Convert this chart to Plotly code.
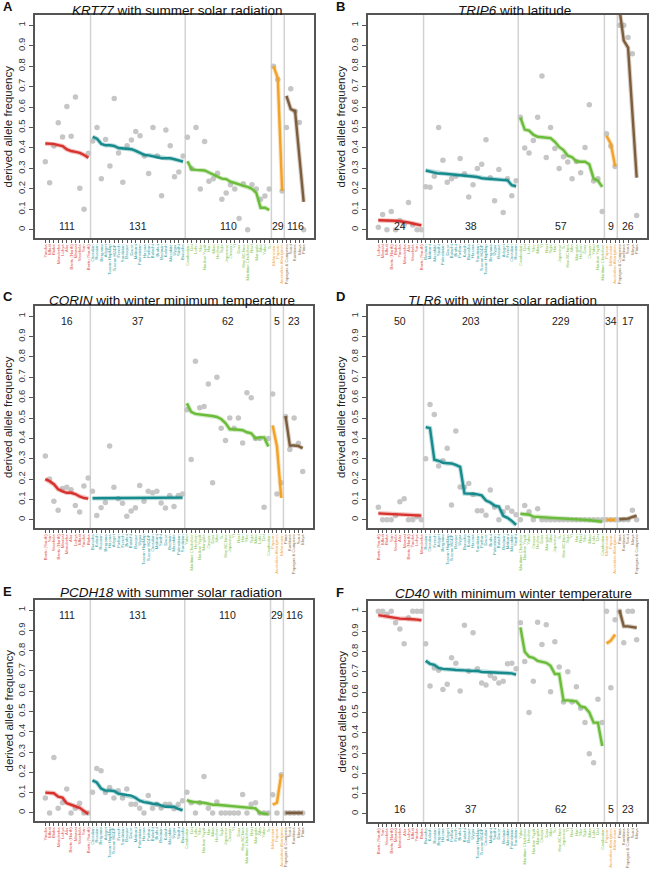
import plotly.graph_objects as go

# ---------------- data ----------------
GROUP_SIZES = [11, 22, 20, 3, 5]
GROUP_LINE_COLORS = ["#d7322d", "#168a8c", "#6abc3a", "#f3a229", "#7c5d3d"]
GROUP_LABEL_COLORS = ["#e04a46", "#2a9a9c", "#7cc24a", "#f2a43a", "#8d6e4e"]
Y_TICKS = [0, 0.1, 0.2, 0.3, 0.4, 0.5, 0.6, 0.7, 0.8, 0.9, 1]
Y_TICK_LABELS = ["0", "0.1", "0.2", "0.3", "0.4", "0.5", "0.6", "0.7", "0.8", "0.9", "1"]

ORDER_SUMMER_SOLAR = [
    "Yoruba", "Mbuti", "Biaka", "Mandenka", "Luhya", "Alur", "Bantu (North)", "Maasai", "Vasekela", "San", "Bantu (South)",
    "Orcadian", "Russian", "Bergamo", "Adygei", "Tuscan HapMap", "Tuscan HGDP", "French", "Sardinian", "Basque", "Druze", "Makrani",
    "Palestinian", "Hazara", "Pathan", "Balochi", "Brahui", "Bedouin", "Kalash", "Mozabite", "Uygur", "Sindhi", "Burusho",
    "Cambodian", "Dai", "Lahu", "She", "Naukan Yupik", "Han", "Miao", "Hezhen", "Tujia", "Japanese", "Oroqen", "Yi", "Daur",
    "Han-NChina", "Maritime Chukchee", "Naxi", "Mongola", "Xibo", "Yakut", "Tu",
    "Melanesian", "Papuan", "Australian Aborigines",
    "Papagos & Cumpeno", "Surui", "Karitiana", "Maya", "Pima"]
ORDER_LATITUDE = [
    "Luhya", "Maasai", "Mbuti", "Bantu (North)", "Biaka", "Yoruba", "Mandenka", "Alur", "Vasekela", "San", "Bantu (South)",
    "Bedouin", "Makrani", "Mozabite", "Sindhi", "Palestinian", "Druze", "Balochi", "Brahui", "Pathan", "Kalash", "Burusho",
    "Hazara", "Sardinian", "Tuscan HGDP", "Tuscan HapMap", "Bergamo", "Uygur", "Basque", "Adygei", "French", "Orcadian", "Russian",
    "Cambodian", "Dai", "Lahu", "She", "Miao", "Yi", "Naxi", "Tujia", "Han", "Japanese", "Tu", "Han-NChina", "Xibo",
    "Mongola", "Hezhen", "Daur", "Oroqen", "Yakut", "Naukan Yupik", "Maritime Chukchee",
    "Papuan", "Melanesian", "Australian Aborigines",
    "Papagos & Cumpeno", "Karitiana", "Surui", "Maya", "Pima"]
ORDER_WINTER_TEMP = [
    "Bantu (South)", "San", "Vasekela", "Bantu (North)", "Maasai", "Mandenka", "Alur", "Luhya", "Mbuti", "Yoruba", "Biaka",
    "Burusho", "Kalash", "Russian", "Bergamo", "Hazara", "Adygei", "Pathan", "French", "Brahui", "Balochi", "Basque",
    "Uygur", "Tuscan HapMap", "Tuscan HGDP", "Orcadian", "Makrani", "Sindhi", "Druze", "Bedouin", "Mozabite", "Palestinian", "Sardinian",
    "Yakut", "Maritime Chukchee", "Hezhen", "Naukan Yupik", "Mongola", "Oroqen", "Daur", "Xibo", "Tu", "Han-NChina", "Japanese",
    "Yi", "Naxi", "Han", "She", "Tujia", "Miao", "Lahu", "Dai", "Cambodian",
    "Papuan", "Australian Aborigines", "Melanesian",
    "Pima", "Karitiana", "Papagos & Cumpeno", "Surui", "Maya"]
ORDER_WINTER_SOLAR = [
    "Bantu (South)", "Mbuti", "Biaka", "San", "Vasekela", "Alur", "Maasai", "Bantu (North)", "Yoruba", "Luhya", "Mandenka",
    "Russian", "Orcadian", "French", "Adygei", "Bergamo", "Tuscan HapMap", "Tuscan HGDP", "Basque", "Uygur", "Burusho", "Kalash",
    "Hazara", "Sardinian", "Pathan", "Druze", "Brahui", "Palestinian", "Balochi", "Bedouin", "Makrani", "Mozabite", "Sindhi",
    "Maritime Chukchee", "Naukan Yupik", "Yakut", "Oroqen", "Hezhen", "Daur", "Mongola", "Xibo", "Japanese", "Tu", "Han-NChina",
    "Tujia", "Yi", "Han", "Naxi", "She", "Miao", "Lahu", "Dai", "Cambodian",
    "Melanesian", "Papuan", "Australian Aborigines",
    "Pima", "Karitiana", "Surui", "Maya", "Papagos & Cumpeno"]

# Panel A: KRT77 with summer solar radiation
A_FREQ = [0.333, 0.23, 0.41, 0.523, 0.454, 0.603, 0.457, 0.649, 0.203, 0.10, 0.374,
          0.434, 0.50, 0.25, 0.442, 0.312, 0.642, 0.376, 0.233, 0.411, 0.439, 0.48, 0.46, 0.361, 0.275, 0.50, 0.361,
          0.166, 0.488, 0.411, 0.259, 0.283, 0.361,
          0.452, 0.30, 0.50, 0.20, 0.432, 0.237, 0.25, 0.277, 0.15, 0.18, 0.22, 0.20, 0.055, 0.225, 0.0, 0.22, 0.20,
          0.15, 0.165, 0.20,
          0.80, 0.735, 0.19,
          0.50, 0.69, 0.58, 0.525, 0.0]
A_FIT = [0.422, 0.421, 0.420, 0.414, 0.409, 0.393, 0.385, 0.381, 0.376, 0.366, 0.352,
         0.455, 0.445, 0.420, 0.413, 0.413, 0.410, 0.400, 0.398, 0.397, 0.394, 0.386, 0.375, 0.366, 0.364, 0.360, 0.355,
         0.350, 0.350, 0.350, 0.345, 0.338, 0.333,
         0.335, 0.295, 0.293, 0.293, 0.290, 0.280, 0.268, 0.260, 0.250, 0.248, 0.235, 0.230, 0.222, 0.215, 0.210, 0.200,
         0.180, 0.108, 0.108, 0.097,
         0.80, 0.74, 0.19,
         0.655, 0.59, 0.58, 0.36, 0.137]
A_COUNTS = ["111", "131", "110", "29", "116"]

# Panel B: TRIP6 with latitude
B_FREQ = [0.013, 0.075, 0.0, 0.09, 0.0, 0.046, 0.026, 0.134, 0.023, 0.0, 0.0,
          0.21, 0.208, 0.262, 0.50, 0.34, 0.233, 0.249, 0.262, 0.349, 0.274, 0.16, 0.22, 0.30, 0.32, 0.44, 0.254,
          0.142, 0.295, 0.085, 0.25, 0.166, 0.24,
          0.55, 0.40, 0.375, 0.436, 0.55, 0.752, 0.353, 0.50, 0.397, 0.30, 0.357, 0.332, 0.249, 0.334, 0.279, 0.402,
          0.611, 0.238, 0.25, 0.09,
          0.47, 0.41, 0.31,
          1.0, 1.0, 0.94, 0.86, 0.07]
B_FIT = [0.047, 0.047, 0.046, 0.045, 0.044, 0.042, 0.040, 0.036, 0.031, 0.026, 0.022,
         0.29, 0.285, 0.28, 0.275, 0.275, 0.273, 0.272, 0.27, 0.268, 0.266, 0.264, 0.262, 0.258, 0.252, 0.25, 0.249,
         0.247, 0.245, 0.243, 0.242, 0.218, 0.213,
         0.548, 0.49, 0.485, 0.465, 0.455, 0.452, 0.45, 0.448, 0.43, 0.405, 0.39, 0.362, 0.355, 0.335, 0.333, 0.333,
         0.32, 0.25, 0.24, 0.21,
         0.46, 0.42, 0.31,
         1.08, 0.925, 0.89, 0.57, 0.255]
B_COUNTS = ["24", "38", "57", "9", "26"]

# Panel C: CORIN with winter minimum temperature
C_FREQ = [0.314, 0.20, 0.091, 0.047, 0.154, 0.16, 0.148, 0.07, 0.039, 0.166, 0.205,
          0.14, 0.021, 0.06, 0.085, 0.363, 0.16, 0.104, 0.081, 0.018, 0.044, 0.059, 0.169, 0.091, 0.141, 0.133, 0.141,
          0.083, 0.058, 0.119, 0.065, 0.119, 0.127,
          0.541, 0.296, 0.779, 0.55, 0.556, 0.667, 0.182, 0.70, 0.45, 0.39, 0.50, 0.45, 0.50, 0.377, 0.624, 0.60,
          0.40, 0.40, 0.062, 0.40,
          0.618, 0.127, 0.182,
          0.507, 0.346, 0.50, 0.376, 0.237]
C_FIT = [0.20, 0.19, 0.175, 0.15, 0.14, 0.133, 0.133, 0.127, 0.115, 0.107, 0.104,
         0.106, 0.106, 0.106, 0.106, 0.107, 0.107, 0.107, 0.107, 0.107, 0.107, 0.107, 0.108, 0.108, 0.108, 0.108, 0.108,
         0.108, 0.109, 0.109, 0.109, 0.109, 0.109,
         0.572, 0.53, 0.52, 0.518, 0.515, 0.512, 0.51, 0.505, 0.495, 0.475, 0.445, 0.445, 0.443, 0.44, 0.43, 0.425,
         0.40, 0.405, 0.405, 0.36,
         0.463, 0.36, 0.108,
         0.51, 0.365, 0.365, 0.362, 0.352]
C_COUNTS = ["16", "37", "62", "5", "23"]

# Panel D: TLR6 with winter solar radiation
D_FREQ = [0.062, 0.0, 0.0, 0.0, 0.021, 0.089, 0.104, 0.0, 0.0, 0.015, 0.0,
          0.30, 0.566, 0.517, 0.265, 0.29, 0.351, 0.073, 0.436, 0.161, 0.16, 0.178, 0.125, 0.045, 0.045, 0.022, 0.146,
          0.062, 0.0, 0.04, 0.06, 0.042, 0.025,
          0.0, 0.07, 0.04, 0.0, 0.055, 0.0, 0.0, 0.0, 0.0, 0.0, 0.0, 0.0, 0.0, 0.0, 0.0, 0.0, 0.0, 0.0, 0.0, 0.0,
          0.0, 0.0, 0.0,
          0.0, 0.0, 0.0, 0.047, 0.0]
D_FIT = [0.032, 0.031, 0.029, 0.028, 0.027, 0.026, 0.026, 0.025, 0.024, 0.023, 0.021,
         0.455, 0.45, 0.295, 0.29, 0.28, 0.277, 0.277, 0.27, 0.26, 0.13, 0.13, 0.128, 0.125, 0.12, 0.095, 0.085,
         0.07, 0.065, 0.02, 0.01, -0.005, -0.025,
         0.03, 0.028, 0.025, 0.016, 0.015, 0.013, 0.012, 0.01, 0.01, 0.008, 0.007, 0.006, 0.005, 0.004, 0.002, 0.0,
         -0.002, -0.004, -0.006, -0.009,
         0.0, 0.0, 0.0,
         0.003, 0.004, 0.006, 0.014, 0.021]
D_COUNTS = ["50", "203", "229", "34", "17"]

# Panel E: PCDH18 with summer solar radiation
E_FREQ = [0.073, 0.0, 0.273, 0.023, 0.05, 0.118, 0.0, 0.023, 0.047, 0.0, 0.0,
          0.102, 0.219, 0.208, 0.10, 0.125, 0.073, 0.109, 0.073, 0.118, 0.042, 0.042, 0.023, 0.0, 0.086, 0.023, 0.042,
          0.024, 0.042, 0.042, 0.02, 0.042, 0.06,
          0.102, 0.05, 0.0, 0.05, 0.179, 0.023, 0.0, 0.054, 0.0, 0.0, 0.0, 0.0, 0.0, 0.091, 0.0, 0.042, 0.05, 0.0,
          0.0, 0.0,
          0.09, 0.0, 0.188,
          0.0, 0.0, 0.0, 0.0, 0.0]
E_FIT = [0.10, 0.097, 0.097, 0.08, 0.075, 0.048, 0.04, 0.035, 0.025, 0.01, -0.005,
         0.16, 0.15, 0.12, 0.11, 0.11, 0.108, 0.095, 0.09, 0.088, 0.085, 0.075, 0.06, 0.053, 0.05, 0.045, 0.044,
         0.035, 0.03, 0.03, 0.03, 0.02, 0.013,
         0.063, 0.055, 0.053, 0.052, 0.05, 0.045, 0.04, 0.04, 0.038, 0.036, 0.034, 0.032, 0.03, 0.03, 0.028, 0.025,
         0.022, 0.0, -0.005, -0.007,
         0.04, 0.05, 0.19,
         0.0, 0.0, 0.0, 0.0, 0.0]
E_COUNTS = ["111", "131", "110", "29", "116"]

# Panel F: CD40 with minimum winter temperature
F_FREQ = [1.0, 1.0, 0.985, 1.0, 0.943, 0.912, 0.839, 0.967, 1.0, 1.0, 1.0,
          0.839, 0.631, 0.72, 0.709, 0.614, 0.64, 0.77, 0.743, 0.606, 0.93, 0.703, 0.893, 0.716, 0.646, 0.636, 0.682,
          0.669, 0.646, 0.654, 0.74, 0.743, 0.716,
          0.943, 0.752, 0.50, 0.654, 0.945, 0.836, 0.933, 0.602, 0.849, 0.724, 0.552, 0.701, 0.552, 0.627, 0.521, 0.451,
          0.297, 0.252, 0.565, 0.451,
          1.0, 0.622, 0.958,
          1.0, 0.844, 1.0, 1.0, 0.859]
F_FIT = [0.98, 0.976, 0.972, 0.968, 0.965, 0.963, 0.962, 0.962, 0.96, 0.958, 0.955,
         0.755, 0.74, 0.735, 0.72, 0.715, 0.715, 0.712, 0.71, 0.71, 0.708, 0.706, 0.706, 0.705, 0.70, 0.698, 0.697,
         0.697, 0.696, 0.696, 0.695, 0.693, 0.687,
         0.92, 0.80, 0.775, 0.77, 0.755, 0.75, 0.745, 0.73, 0.69, 0.69, 0.56, 0.56, 0.558, 0.555, 0.53, 0.525,
         0.50, 0.45, 0.45, 0.335,
         0.84, 0.855, 0.885,
         1.005, 0.925, 0.925, 0.922, 0.918]
F_COUNTS = ["16", "37", "62", "5", "23"]

# ---------------- layout ----------------
W, H = 651, 872
FONT = "Liberation Sans, Arial, Helvetica, sans-serif"

panels = [
    dict(letter="A", gene="KRT77", rest=" with summer solar radiation", freq=A_FREQ, fit=A_FIT, names=ORDER_SUMMER_SOLAR,
         counts=A_COUNTS, count_y=0.018, box=(35, 314, 15, 238), title_xy=(177, 11)),
    dict(letter="B", gene="TRIP6", rest=" with latitude", freq=B_FREQ, fit=B_FIT, names=ORDER_LATITUDE,
         counts=B_COUNTS, count_y=0.018, box=(368, 647, 15, 238), title_xy=(514, 11)),
    dict(letter="C", gene="CORIN", rest=" with winter minimum temperature", freq=C_FREQ, fit=C_FIT, names=ORDER_WINTER_TEMP,
         counts=C_COUNTS, count_y=0.978, box=(35, 313, 306, 528), title_xy=(172, 300)),
    dict(letter="D", gene="TLR6", rest=" with winter solar radiation", freq=D_FREQ, fit=D_FIT, names=ORDER_WINTER_SOLAR,
         counts=D_COUNTS, count_y=0.978, box=(368, 647, 306, 528), title_xy=(502, 300)),
    dict(letter="E", gene="PCDH18", rest=" with summer solar radiation", freq=E_FREQ, fit=E_FIT, names=ORDER_SUMMER_SOLAR,
         counts=E_COUNTS, count_y=0.978, box=(35, 313, 600, 821), title_xy=(171, 592)),
    dict(letter="F", gene="CD40", rest=" with minimum winter temperature", freq=F_FREQ, fit=F_FIT, names=ORDER_WINTER_TEMP,
         counts=F_COUNTS, count_y=0.022, box=(368, 647, 601, 822), title_xy=(513, 593)),
]

fig = go.Figure()
shapes, annotations, layout_axes = [], [], {}

group_of = []
for g, n in enumerate(GROUP_SIZES):
    group_of += [g] * n
starts = [sum(GROUP_SIZES[:g]) for g in range(len(GROUP_SIZES))]

for i, p in enumerate(panels):
    s = "" if i == 0 else str(i + 1)
    xa, ya = "x" + s, "y" + s
    idx = list(range(len(p["freq"])))
    fig.add_trace(go.Scatter(x=idx, y=p["freq"], mode="markers", xaxis=xa, yaxis=ya,
                             marker=dict(color="#c6c6c6", size=5.5, line=dict(width=0)),
                             showlegend=False, hoverinfo="skip"))
    for g, n in enumerate(GROUP_SIZES):
        st = starts[g]
        xs = idx[st:st + n]
        ys = p["fit"][st:st + n]
        fig.add_trace(go.Scatter(x=xs, y=ys, mode="lines", xaxis=xa, yaxis=ya,
                                 line=dict(color=GROUP_LINE_COLORS[g], width=4.5), opacity=0.3,
                                 showlegend=False, hoverinfo="skip"))
        fig.add_trace(go.Scatter(x=xs, y=ys, mode="lines", xaxis=xa, yaxis=ya,
                                 line=dict(color=GROUP_LINE_COLORS[g], width=2.4),
                                 showlegend=False, hoverinfo="skip"))
        annotations.append(dict(x=st + (n - 1) / 2, y=p["count_y"], xref=xa, yref=ya, text=p["counts"][g],
                                showarrow=False, font=dict(size=10.5, color="#222", family=FONT)))
        if g > 0:
            shapes.append(dict(type="line", xref=xa, yref=ya + " domain", x0=st - 0.5, x1=st - 0.5, y0=0, y1=1,
                               line=dict(color="#d2d2d2", width=1.5), layer="below"))
    l, r, t, b = p["box"]
    ticktext = [f"<span style='color:{GROUP_LABEL_COLORS[group_of[k]]}'>{nm}</span>" for k, nm in enumerate(p["names"])]
    layout_axes["xaxis" + s] = dict(domain=[l / W, r / W], anchor=ya, range=[-2.4, 62.4], tickmode="array",
                                    tickvals=idx, ticktext=ticktext, tickangle=-90,
                                    tickfont=dict(size=4.2, family=FONT), ticks="outside", ticklen=3, tickwidth=0.8,
                                    tickcolor="#555", showline=True, linecolor="#555", linewidth=1.5, mirror=True,
                                    showgrid=False, zeroline=False, automargin=False)
    layout_axes["yaxis" + s] = dict(domain=[1 - b / H, 1 - t / H], anchor=xa, range=[-0.04, 1.05], tickmode="array",
                                    tickvals=Y_TICKS, ticktext=Y_TICK_LABELS, tickangle=-90,
                                    tickfont=dict(size=9.5, color="#333", family=FONT), ticks="outside", ticklen=4,
                                    tickwidth=0.8, tickcolor="#555", showline=True, linecolor="#555", linewidth=1.5,
                                    mirror=True, showgrid=False, zeroline=False, automargin=False)
    tx, ty = p["title_xy"]
    annotations.append(dict(x=tx / W, y=1 - ty / H, xref="paper", yref="paper", xanchor="center", yanchor="middle",
                            text=f"<i>{p['gene']}</i>{p['rest']}", showarrow=False,
                            font=dict(size=13.5, color="#111", family=FONT)))
    annotations.append(dict(x=(l - 27) / W, y=1 - ((t + b) / 2) / H, xref="paper", yref="paper",
                            xanchor="center", yanchor="middle", textangle=-90, text="derived allele frequency",
                            showarrow=False, font=dict(size=11.5, color="#222", family=FONT)))
    lx = 7.5 if l < 100 else 340
    annotations.append(dict(x=lx / W, y=1 - (t - 9) / H, xref="paper", yref="paper", xanchor="center",
                            yanchor="middle", text="<b>" + p["letter"] + "</b>", showarrow=False,
                            font=dict(size=13, color="#111", family=FONT)))

fig.update_layout(width=W, height=H, margin=dict(l=0, r=0, t=0, b=0), template="none",
                  paper_bgcolor="white", plot_bgcolor="white", shapes=shapes, annotations=annotations,
                  font=dict(family=FONT), **layout_axes)

fig.write_html("out.html", config={"displayModeBar": False},
               post_script="document.body.style.margin='0';document.body.style.overflow='hidden';")
